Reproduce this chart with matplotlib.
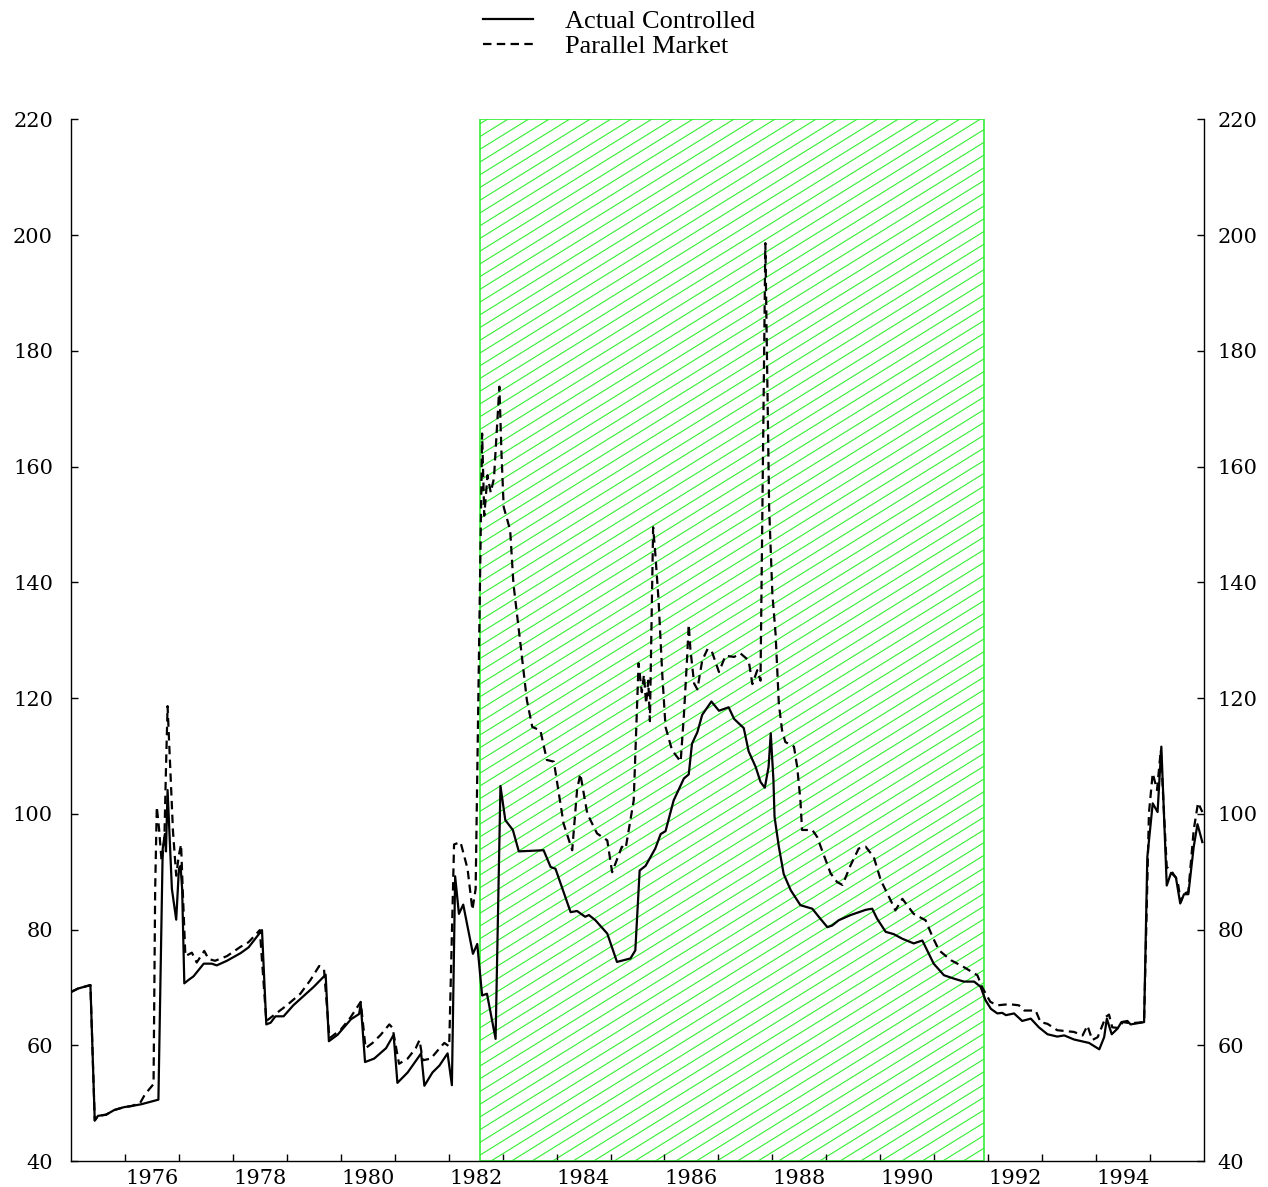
import matplotlib
matplotlib.use('Agg')
import matplotlib.pyplot as plt
from matplotlib.patches import Rectangle
import numpy as np

# actual controlled rate (solid)
ctrl_year = [1975.00, 1975.13, 1975.36, 1975.44, 1975.50, 1975.65, 1975.80, 1975.98, 1976.12, 1976.30,
             1976.62, 1976.70, 1976.74, 1976.76, 1976.79, 1976.87, 1976.95, 1977.00, 1977.03, 1977.06,
             1977.10, 1977.18, 1977.27, 1977.46, 1977.61, 1977.70, 1977.89, 1978.14, 1978.29, 1978.54,
             1978.62, 1978.70, 1978.79, 1978.94, 1979.12, 1979.50, 1979.72, 1979.78, 1979.94, 1980.19,
             1980.34, 1980.37, 1980.45, 1980.62, 1980.84, 1980.98, 1981.05, 1981.24, 1981.49, 1981.55,
             1981.70, 1981.83, 1981.98, 1982.06, 1982.12, 1982.19, 1982.27, 1982.45, 1982.53, 1982.62,
             1982.71, 1982.87, 1982.96, 1983.05, 1983.19, 1983.30, 1983.76, 1983.89, 1983.98, 1984.26,
             1984.38, 1984.53, 1984.60, 1984.72, 1984.94, 1985.12, 1985.37, 1985.46, 1985.54, 1985.65,
             1985.83, 1985.93, 1986.02, 1986.17, 1986.36, 1986.45, 1986.51, 1986.61, 1986.70, 1986.87,
             1987.01, 1987.19, 1987.29, 1987.47, 1987.56, 1987.69, 1987.78, 1987.86, 1987.93, 1987.97,
             1988.02, 1988.04, 1988.12, 1988.21, 1988.34, 1988.52, 1988.74, 1988.86, 1989.02, 1989.11,
             1989.23, 1989.45, 1989.73, 1989.85, 1989.94, 1990.10, 1990.25, 1990.41, 1990.62, 1990.78,
             1990.87, 1990.99, 1991.18, 1991.37, 1991.55, 1991.74, 1991.86, 1991.95, 1992.05, 1992.17,
             1992.26, 1992.33, 1992.48, 1992.63, 1992.79, 1992.94, 1993.10, 1993.28, 1993.41, 1993.59,
             1993.78, 1993.87, 1994.06, 1994.15, 1994.20, 1994.29, 1994.40, 1994.47, 1994.58, 1994.64,
             1994.89, 1994.95, 1995.05, 1995.14, 1995.21, 1995.31, 1995.39, 1995.48, 1995.56, 1995.63,
             1995.71, 1995.81, 1995.88, 1995.97]
ctrl_val = [69.2, 69.8, 70.4, 47.0, 47.8, 48.0, 48.8, 49.3, 49.5, 49.8,
            50.6, 94.0, 96.5, 93.5, 104.1, 87.0, 81.7, 90.5, 91.0, 87.0,
            70.7, 71.3, 71.9, 74.1, 74.1, 73.8, 74.6, 75.9, 76.9, 79.9,
            63.6, 63.9, 65.0, 65.0, 66.9, 70.1, 72.2, 60.7, 61.8, 64.5,
            65.4, 67.2, 57.1, 57.7, 59.5, 61.8, 53.5, 55.3, 58.6, 53.0,
            55.3, 56.5, 58.6, 53.1, 89.2, 82.7, 84.3, 75.8, 77.5, 68.6,
            68.9, 61.1, 104.8, 98.9, 97.2, 93.5, 93.7, 90.8, 90.5, 83.0,
            83.2, 82.2, 82.5, 81.6, 79.3, 74.4, 75.0, 76.4, 90.2, 91.0,
            94.0, 96.5, 97.0, 102.3, 106.1, 106.8, 112.1, 114.1, 117.1, 119.4,
            117.8, 118.4, 116.4, 114.8, 110.8, 108.1, 105.5, 104.5, 108.1, 113.9,
            105.8, 99.5, 94.3, 89.6, 86.8, 84.2, 83.6, 82.2, 80.4, 80.7,
            81.6, 82.5, 83.4, 83.6, 81.9, 79.6, 79.2, 78.4, 77.6, 78.1,
            76.4, 74.1, 72.1, 71.5, 71.0, 71.0, 70.1, 67.8, 66.3, 65.5,
            65.6, 65.2, 65.5, 64.2, 64.6, 63.1, 61.9, 61.5, 61.7, 61.0,
            60.6, 60.4, 59.3, 61.4, 64.6, 61.9, 62.9, 64.0, 64.2, 63.6,
            64.0, 92.5, 101.8, 100.3, 111.6, 87.6, 89.8, 89.0, 84.5, 86.1,
            86.1, 94.3, 98.2, 95.1]

# parallel market rate (dashed)
par_year = [1975.00, 1975.13, 1975.36, 1975.44, 1975.50, 1975.65, 1975.80, 1975.98, 1976.12, 1976.28,
            1976.37, 1976.53, 1976.56, 1976.59, 1976.63, 1976.68, 1976.73, 1976.76, 1976.79, 1976.84,
            1976.89, 1976.95, 1977.00, 1977.04, 1977.07, 1977.12, 1977.24, 1977.33, 1977.47, 1977.55,
            1977.67, 1977.89, 1978.14, 1978.29, 1978.50, 1978.62, 1978.79, 1979.00, 1979.25, 1979.44,
            1979.60, 1979.69, 1979.79, 1980.00, 1980.18, 1980.37, 1980.46, 1980.59, 1980.74, 1980.90,
            1980.96, 1981.08, 1981.24, 1981.39, 1981.46, 1981.52, 1981.67, 1981.86, 1981.92, 1982.01,
            1982.10, 1982.22, 1982.35, 1982.44, 1982.50, 1982.62, 1982.66, 1982.72, 1982.78, 1982.84,
            1982.94, 1982.98, 1983.02, 1983.14, 1983.20, 1983.33, 1983.45, 1983.55, 1983.70, 1983.82,
            1983.95, 1984.13, 1984.29, 1984.38, 1984.44, 1984.57, 1984.75, 1984.94, 1985.03, 1985.21,
            1985.28, 1985.43, 1985.52, 1985.58, 1985.62, 1985.66, 1985.70, 1985.73, 1985.79, 1985.83,
            1985.89, 1985.96, 1986.02, 1986.14, 1986.30, 1986.36, 1986.42, 1986.45, 1986.48, 1986.55,
            1986.61, 1986.70, 1986.80, 1986.88, 1987.01, 1987.13, 1987.29, 1987.41, 1987.56, 1987.63,
            1987.72, 1987.78, 1987.87, 1987.94, 1988.00, 1988.06, 1988.12, 1988.18, 1988.24, 1988.40,
            1988.46, 1988.52, 1988.55, 1988.74, 1988.83, 1988.92, 1989.08, 1989.20, 1989.30, 1989.45,
            1989.60, 1989.73, 1989.88, 1990.01, 1990.19, 1990.28, 1990.41, 1990.62, 1990.84, 1990.97,
            1991.09, 1991.31, 1991.55, 1991.80, 1991.89, 1992.04, 1992.17, 1992.39, 1992.57, 1992.67,
            1992.88, 1992.97, 1993.10, 1993.28, 1993.59, 1993.75, 1993.84, 1993.93, 1994.03, 1994.18,
            1994.24, 1994.30, 1994.40, 1994.50, 1994.64, 1994.89, 1994.98, 1995.05, 1995.13, 1995.20,
            1995.31, 1995.39, 1995.51, 1995.57, 1995.63, 1995.71, 1995.81, 1995.89, 1995.97]
par_val = [69.2, 69.8, 70.4, 47.0, 47.8, 48.0, 48.8, 49.3, 49.5, 50.0,
           51.5, 53.3, 87.0, 101.2, 97.6, 91.7, 95.3, 107.7, 118.6, 107.7,
           97.0, 89.3, 92.9, 94.7, 87.0, 75.4, 76.0, 74.3, 76.3, 74.9,
           74.6, 75.4, 77.0, 77.8, 79.9, 64.2, 65.4, 66.9, 68.9, 71.3,
           73.7, 73.1, 61.2, 62.7, 64.8, 67.5, 59.5, 60.4, 61.8, 63.6,
           63.0, 56.8, 57.7, 59.5, 60.9, 57.4, 57.7, 59.8, 60.4, 59.8,
           94.7, 95.1, 90.5, 83.4, 87.0, 165.7, 151.5, 158.5, 155.5, 158.0,
           173.8, 162.0, 153.0, 149.0, 139.8, 129.4, 119.6, 115.0, 114.4, 109.3,
           109.0, 98.3, 93.7, 104.1, 106.9, 100.0, 96.6, 95.4, 89.9, 94.3,
           94.0, 102.3, 126.0, 121.0, 124.0, 119.0, 123.0, 116.0, 149.5, 145.0,
           137.0, 124.0, 115.0, 111.0, 109.0, 117.0, 127.0, 132.7, 128.5, 122.5,
           121.5, 126.5, 128.5, 128.0, 124.5, 127.3, 127.1, 127.7, 126.5, 122.4,
           124.8, 123.0, 198.6, 153.0, 138.0, 131.0, 119.0, 114.4, 112.4, 111.6,
           108.1, 102.3, 97.2, 97.2, 96.0, 93.7, 89.7, 88.2, 87.7, 91.1,
           94.0, 94.3, 92.5, 88.5, 85.1, 83.3, 85.3, 82.7, 81.6, 78.7,
           76.4, 74.7, 73.5, 72.1, 70.0, 67.5, 66.9, 67.1, 66.9, 66.0,
           66.0, 64.0, 63.7, 62.6, 62.3, 61.7, 63.4, 60.9, 61.4, 64.9,
           65.3, 63.1, 63.0, 64.0, 63.8, 64.0, 100.1, 107.0, 104.1, 111.0,
           90.8, 90.2, 88.5, 84.8, 86.2, 86.5, 97.2, 101.9, 100.3]

band_start = 1982.58
band_end = 1991.92
year_ticks = list(range(1976, 1996))
label_years = list(range(1976, 1995, 2))
y_ticks = list(range(40, 221, 20))

green = '#33ee33'
tick_font = dict(family='DejaVu Serif', size=15)

fig = plt.figure(figsize=(12.68, 11.87), dpi=100)
ax = fig.add_axes([0.056, 0.0219, 0.8935, 0.8776])
ax.set_xlim(1975, 1996)
ax.set_ylim(40, 220)

# shaded period with slanted green hatching
rect = Rectangle((band_start, 40), band_end - band_start, 180, fill=False,
                 edgecolor=green, lw=1.2, zorder=2)
ax.add_patch(rect)
k = 5.78   # slope of hatch lines in data units per year
for c in np.arange(40 - k * (band_end - band_start), 222, 2.2):
    hl, = ax.plot([band_start, band_end], [c, c + k * (band_end - band_start)],
                  color=green, lw=0.8, zorder=1)
    hl.set_clip_path(rect)

l1, = ax.plot(ctrl_year, ctrl_val, color='black', lw=1.6, zorder=4,
              label='Actual Controlled')
l2, = ax.plot(par_year, par_val, color='black', lw=1.6, ls=(0, (3.8, 2.4)),
              zorder=3, label='Parallel Market')

ax.spines['top'].set_visible(False)
ax.spines['right'].set_visible(False)
for s in ['left', 'bottom']:
    ax.spines[s].set_linewidth(1.0)

ax.set_xticks(year_ticks)
ax.set_xticklabels([])
ax.set_xticks([y + 0.5 for y in label_years], minor=True)
ax.set_xticklabels([str(y) for y in label_years], minor=True, fontdict=tick_font)
ax.tick_params(axis='x', which='major', direction='in', length=5, width=1)
ax.tick_params(axis='x', which='minor', length=0, pad=5.5)

ax.set_yticks(y_ticks)
ax.set_yticklabels([str(v) for v in y_ticks], fontdict=tick_font)
ax.tick_params(axis='y', direction='in', length=5, width=1, pad=13)

ax2 = ax.twinx()
ax2.set_ylim(40, 220)
ax2.set_yticks(y_ticks)
ax2.set_yticklabels([str(v) for v in y_ticks], fontdict=tick_font)
ax2.tick_params(axis='y', direction='in', length=5, width=1, pad=10)
for s in ['top', 'left', 'bottom']:
    ax2.spines[s].set_visible(False)
ax2.spines['right'].set_linewidth(1.0)

fig.legend(handles=[l1, l2], loc='upper center', bbox_to_anchor=(0.488, 1.001),
           frameon=False, prop=dict(family='Liberation Serif', size=19),
           handlelength=1.9, handletextpad=1.2, labelspacing=0.08, borderaxespad=0)

fig.savefig('out.png', dpi=100)
